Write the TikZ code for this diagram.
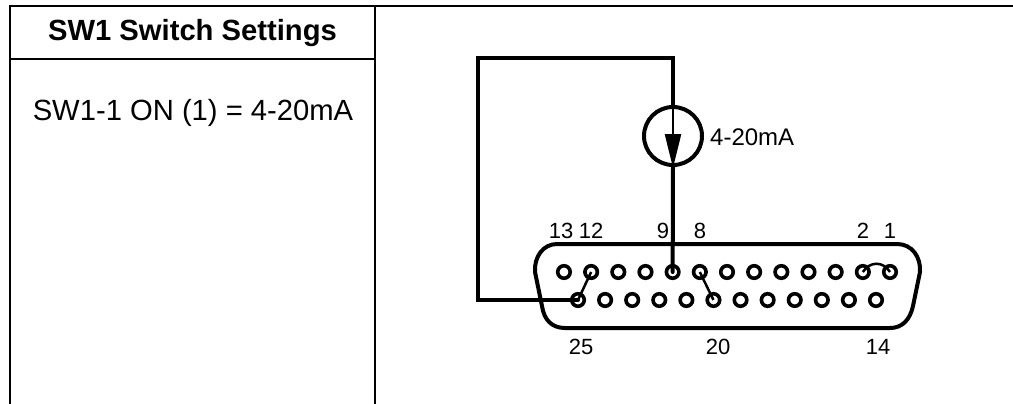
\documentclass[tikz,border=0pt]{standalone}
\usepackage{fontspec}
\setmainfont{Liberation Sans}
\usetikzlibrary{arrows.meta}
\tikzset{>=stealth}
\tikzset{pin/.style={circle,draw,line width=3.6pt,inner sep=0pt,minimum size=12.5pt}}
\tikzset{wire/.style={line width=4pt,line cap=round,line join=miter}}
\tikzset{rule/.style={line width=2pt}}
\tikzset{pinlabel/.style={font=\fontsize{22}{24}\selectfont,inner sep=0pt}}

\begin{document}
\begin{tikzpicture}[x=1pt,y=-1pt]
\useasboundingbox (0,0) rectangle (1013,404);

% Table
\coordinate (TL) at (10,6);
\coordinate (TM) at (375,6);
\coordinate (TR) at (1013,6);
\coordinate (HL) at (10,59);
\coordinate (HR) at (375,59);
\coordinate (BL) at (10,404);
\coordinate (BM) at (375,404);

\draw[rule] (BL) -- (TL) -- (TR);
\draw[rule] (TM) -- (BM);
\draw[rule] (HL) -- (HR);

\node[font=\fontsize{29.2}{32}\selectfont\bfseries] (title) at (192.5,33) {SW1 Switch Settings};
\node[font=\fontsize{29.2}{32}\selectfont] (setting) at (193,113) {SW1-1 ON (1) = 4-20mA};

% Connector shell
\draw[line width=4pt] (557,244) -- (897,244)
  .. controls (912,244) and (921,257) .. (920,272) -- (913,306)
  .. controls (910,320) and (902,328) .. (890,328) -- (565,328)
  .. controls (552,328) and (544,320) .. (542,306) -- (535,272)
  .. controls (534,257) and (543,244) .. (557,244) -- cycle;

% Top row
\foreach \n in {1,...,13}
  \node[pin] (P\n) at ({890-27.17*(\n-1)},272) {};
% Bottom row
\foreach \n in {14,...,25}
  \node[pin] (P\n) at ({876-27.09*(\n-14)},300) {};

% Current source
\node[circle,draw,line width=4pt,inner sep=0pt,minimum size=58pt] (src) at (673,136) {};
\coordinate (W1) at (673,58);
\coordinate (W2) at (478,58);
\coordinate (W3) at (478,300);

\draw[wire] (src.north) -- (W1) -- (W2) -- (W3) -- (P25.center);
\draw[wire] (src.south) -- (P9.center);
\draw[line width=2.5pt,-{Triangle[length=34pt,width=16pt]},shorten >=-1pt] (src.north) -- (src.south);

% Jumpers
\draw[line width=2.5pt] (P12.center) -- (P25.center);
\draw[line width=2.5pt] (P8.center) -- (P20.center);
\draw[line width=2.5pt] (P2.center) .. controls (870,261) and (883,261) .. (P1.center);

% Labels
\node[pinlabel,anchor=west,font=\fontsize{24}{26}\selectfont] (lsrc) at (710,137) {4-20mA};
\node[pinlabel] (l13) at (561,231) {13};
\node[pinlabel] (l12) at (591,231) {12};
\node[pinlabel] (l9) at (663,231) {9};
\node[pinlabel] (l8) at (700,231) {8};
\node[pinlabel] (l2) at (863,231) {2};
\node[pinlabel] (l1) at (890,231) {1};
\node[pinlabel] (l25) at (581,347) {25};
\node[pinlabel] (l20) at (718,347) {20};
\node[pinlabel] (l14) at (878,347) {14};

\end{tikzpicture}
\end{document}
